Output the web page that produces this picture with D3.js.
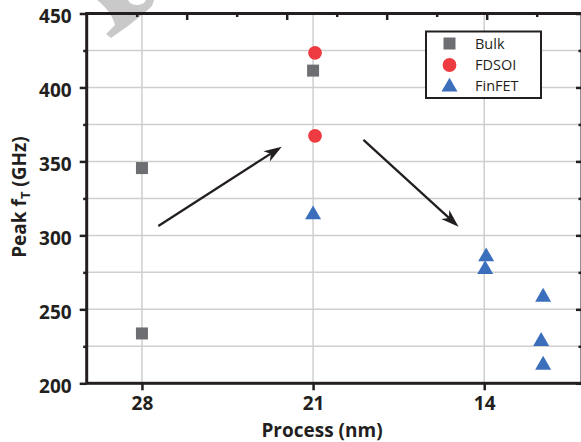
<!DOCTYPE html>
<html><head><meta charset="utf-8">
<script src="https://cdn.jsdelivr.net/npm/d3@7"></script>
<style>body{margin:0;background:#fff}svg{display:block}</style>
</head><body>
<script>
// ---- data ----
const xTickValues = [28, 21, 14];
const xTickLabels = ["28", "21", "14"];
const yMajorTicks = [200, 250, 300, 350, 400, 450];
const yMinorTicks = [225, 275, 325, 375, 425];
const topTicks = [1, 2, 3, 4, 5, 6, 7, 8, 9];
const seriesNames = ["Bulk", "FDSOI", "FinFET"];
const bulkX = [28, 28, 21];
const bulkY = [345.5, 233.7, 411.4];
const fdsoiX = [20.92, 20.92];
const fdsoiY = [423.4, 367.3];
const finfetX = [21, 13.92, 13.96, 11.59, 11.67, 11.59];
const finfetY = [314, 285.6, 277, 258.3, 228.4, 212.3];
const arrowFromX = [27.33, 18.94];
const arrowFromY = [306.4, 364.5];
const arrowToX = [22.28, 15.05];
const arrowToY = [360, 305.9];

// ---- layout ----
const W = 581, H = 442;
const L = 86.7, R = 582, T = 13.5, B = 383.3;
const ink = "#231f20";
const colors = {Bulk: "#6d6e71", FDSOI: "#ee3b42", FinFET: "#3b6fbc"};
const fontFam = "'Open Sans', 'Noto Sans', sans-serif";

const svg = d3.select("body").append("svg").attr("width", W).attr("height", H)
  .style("font-family", fontFam);

const x = d3.scaleLinear().domain([30.26, 10]).range([L, R]);
const y = d3.scaleLinear().domain([200, 450]).range([B, T]);
const xTop = d3.scaleLinear().domain([0, 1]).range([L, L + 50]);

// watermark fragment
svg.append("path")
  .attr("d", "M97,0 L154,0 L152,6 C146,12 138,18 128,26 L111,38 L106,34 L115,25 C112,14 105,6 97,0 Z")
  .attr("fill", "#c9c9c9");
svg.append("ellipse").attr("cx", 137).attr("cy", -1).attr("rx", 9).attr("ry", 6).attr("fill", "#fff");

// grid
const grid = svg.append("g").attr("stroke", "#cfcfcf").attr("stroke-width", 1.5);
grid.selectAll("line.h").data(yMinorTicks.concat([250, 300, 350, 400])).join("line")
  .attr("x1", L).attr("x2", R).attr("y1", d => y(d)).attr("y2", d => y(d));
grid.selectAll("line.v").data(xTickValues).join("line").attr("class", "v")
  .attr("y1", T).attr("y2", B).attr("x1", d => x(d)).attr("x2", d => x(d));

function styleAxis(g) {
  g.select(".domain").remove();
  g.selectAll(".tick line").attr("stroke", ink).attr("stroke-width", 2.5);
}

// left axis major
const gl = svg.append("g").attr("transform", `translate(${L},0)`)
  .call(d3.axisLeft(y).tickValues(yMajorTicks).tickSize(7).tickPadding(8).tickFormat(d3.format("d")));
styleAxis(gl);
gl.selectAll(".tick text").attr("fill", ink).attr("font-size", 19).attr("font-weight", 700)
  .attr("font-family", fontFam).attr("dy", "0.36em").attr("transform", "translate(0,2.3)");
// left minor
const glm = svg.append("g").attr("transform", `translate(${L},0)`)
  .call(d3.axisLeft(y).tickValues(yMinorTicks).tickSize(3.5).tickFormat(""));
styleAxis(glm);
// right axis (inward)
const gr = svg.append("g").attr("transform", `translate(${R},0)`)
  .call(d3.axisLeft(y).tickValues(yMajorTicks).tickSize(6).tickFormat(""));
styleAxis(gr);
const grm = svg.append("g").attr("transform", `translate(${R},0)`)
  .call(d3.axisLeft(y).tickValues(yMinorTicks).tickSize(3.5).tickFormat(""));
styleAxis(grm);

// bottom axis
const gb = svg.append("g").attr("transform", `translate(0,${B})`)
  .call(d3.axisBottom(x).tickValues(xTickValues).tickSize(7).tickPadding(6.4)
    .tickFormat((d, i) => xTickLabels[i]));
styleAxis(gb);
gb.selectAll(".tick text").attr("fill", ink).attr("font-size", 19).attr("font-weight", 700)
  .attr("font-family", fontFam);

// top axis (inward ticks)
const gt = svg.append("g").attr("transform", `translate(0,${T})`)
  .call(d3.axisBottom(xTop).tickValues(topTicks.filter(d => d % 2 === 0)).tickSize(6.5).tickFormat(""));
styleAxis(gt);
const gtm = svg.append("g").attr("transform", `translate(0,${T})`)
  .call(d3.axisBottom(xTop).tickValues(topTicks.filter(d => d % 2 === 1)).tickSize(3.5).tickFormat(""));
styleAxis(gtm);

// frame
svg.append("rect").attr("x", L).attr("y", T).attr("width", R - L).attr("height", B - T)
  .attr("fill", "none").attr("stroke", ink).attr("stroke-width", 3);

// arrows
const ag = svg.append("g");
arrowFromX.forEach((_, i) => {
  const x1 = x(arrowFromX[i]), y1 = y(arrowFromY[i]), x2 = x(arrowToX[i]), y2 = y(arrowToY[i]);
  const dx = x2 - x1, dy = y2 - y1, len = Math.hypot(dx, dy);
  const ux = dx / len, uy = dy / len, px = -uy, py = ux;
  const hl = 18, hw = 6, notch = 13;
  const bx = x2 - ux * hl, by = y2 - uy * hl;
  const nx = x2 - ux * notch, ny = y2 - uy * notch;
  ag.append("line").attr("x1", x1).attr("y1", y1).attr("x2", nx).attr("y2", ny)
    .attr("stroke", ink).attr("stroke-width", 2.3);
  ag.append("path")
    .attr("d", `M${x2},${y2} L${bx + px * hw},${by + py * hw} L${nx},${ny} L${bx - px * hw},${by - py * hw} Z`)
    .attr("fill", ink);
});

// points
const sym = {
  Bulk: d3.symbol().type(d3.symbolSquare).size(144),
  FDSOI: d3.symbol().type(d3.symbolCircle).size(150),
  FinFET: d3.symbol().type(d3.symbolTriangle).size(111)
};
const series = [
  {name: "Bulk", xs: bulkX, ys: bulkY},
  {name: "FDSOI", xs: fdsoiX, ys: fdsoiY},
  {name: "FinFET", xs: finfetX, ys: finfetY}
];
series.forEach(s => {
  svg.append("g").selectAll("path").data(s.xs.map((v, i) => [v, s.ys[i]])).join("path")
    .attr("d", sym[s.name]())
    .attr("transform", d => `translate(${x(d[0])},${y(d[1])})`)
    .attr("fill", colors[s.name]);
});

// legend
const lg = svg.append("g");
lg.append("rect").attr("x", 426).attr("y", 31.5).attr("width", 115).attr("height", 66.5)
  .attr("fill", "#fff").attr("stroke", ink).attr("stroke-width", 2);
const legY = [43.5, 65, 86];
seriesNames.forEach((n, i) => {
  lg.append("path").attr("d", sym[n]())
    .attr("transform", `translate(449.5,${legY[i] + (n === "FinFET" ? 1 : 0)})`).attr("fill", colors[n]);
  lg.append("text").attr("x", 475).attr("y", legY[i]).attr("dy", "0.36em")
    .attr("font-size", 14.5).attr("fill", ink).text(n);
});

// axis titles
svg.append("text").attr("x", 322).attr("y", 436.7).attr("text-anchor", "middle")
  .attr("font-size", 19).attr("font-weight", 700).attr("fill", ink).text("Process (nm)");
const yt = svg.append("text").attr("transform", "translate(26,197) rotate(-90)")
  .attr("text-anchor", "middle").attr("font-size", 19).attr("font-weight", 700).attr("fill", ink);
yt.append("tspan").text("Peak f");
yt.append("tspan").attr("font-size", 13).attr("dy", 4).text("T");
yt.append("tspan").attr("dy", -4).text(" (GHz)");
</script>
</body></html>
